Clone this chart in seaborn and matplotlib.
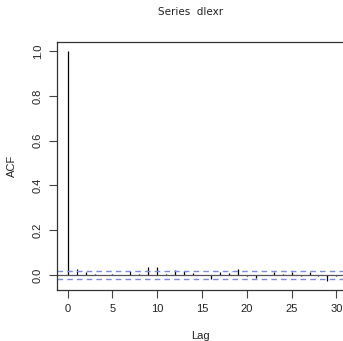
import numpy as np
import pandas as pd
import seaborn as sns
import matplotlib
matplotlib.use("Agg")
import matplotlib.pyplot as plt

# acf values
lags = list(range(0, 31))
acf = [1.0, 0.027, 0.013, 0.004, 0.002, 0.006, 0.001, 0.018, 0.006, 0.036,
       0.036, 0.003, 0.021, 0.017, 0.011, 0.002, -0.018, 0.013, 0.008, 0.026,
       -0.002, -0.011, 0.002, 0.012, 0.007, 0.012, -0.002, 0.015, -0.002, -0.028,
       -0.006]
ci = 0.0192
xticks = [0, 5, 10, 15, 20, 25, 30]
yticks = [0.0, 0.2, 0.4, 0.6, 0.8, 1.0]

acf_df = pd.DataFrame({"lag": lags, "acf": acf})

sns.set_style("white")
plt.rcParams["font.family"] = ["Liberation Sans", "DejaVu Sans"]

fig = plt.figure(figsize=(3.43, 3.41), dpi=100)
ax = fig.add_axes([0.166, 0.150, 0.846, 0.727])

# acf spikes, zero line and confidence band
ax.vlines(acf_df["lag"], 0, acf_df["acf"], color="black", lw=0.9)
ax.axhline(0, color="#555555", lw=0.9)
ax.axhline(ci, color="#7d8ce0", lw=1.0, ls=(0, (4, 3)))
ax.axhline(-ci, color="#7d8ce0", lw=1.0, ls=(0, (4, 3)))

ax.set_xlim(-1.2, 31.2)
ax.set_ylim(-0.066, 1.041)
ax.set_xticks(xticks)
ax.set_yticks(yticks)
ax.set_xticklabels([str(t) for t in xticks], fontsize=8, color="#222222")
ax.set_yticklabels(["%.1f" % t for t in yticks], fontsize=8, color="#222222",
                   rotation=90, va="center")
ax.tick_params(direction="out", length=6, width=0.8, color="#444444", pad=4,
               bottom=True, left=True)
for s in ax.spines.values():
    s.set_color("#333333")
    s.set_linewidth(0.9)

ax.set_xlabel("")
ax.set_ylabel("")
fig.text(191 / 343, 1 - 12 / 341, "Series  dlexr", ha="center", va="center",
         fontsize=7.5, color="#222222", family="DejaVu Sans")
fig.text(200 / 343, 1 - 336 / 341, "Lag", ha="center", va="center",
         fontsize=8, color="#222222")
fig.text(12 / 343, 1 - 166 / 341, "ACF", ha="center", va="center",
         fontsize=8, color="#222222", rotation=90)

fig.savefig("out.png", dpi=100)
